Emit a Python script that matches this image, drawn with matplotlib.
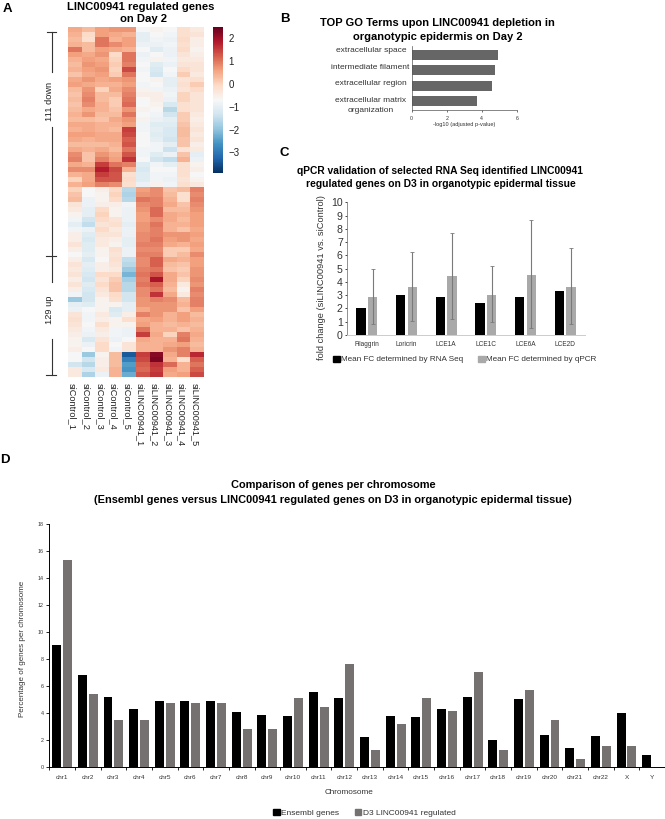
"""
LINC00941 figure: heatmap, GO terms, qPCR validation and genes per chromosome.
Saves out.png (665x819).
"""
import numpy as np
import matplotlib
matplotlib.use("Agg")
import matplotlib.pyplot as plt
from matplotlib.lines import Line2D
from matplotlib.patches import Patch
from matplotlib.transforms import ScaledTranslation

plt.rcParams["font.family"] = ["Liberation Sans", "DejaVu Sans"]

W, H = 665, 819

# Panel A: estimated z-scores, one row per band of genes
HEAT_COLUMNS = ["siControl_1", "siControl_2", "siControl_3", "siControl_4", "siControl_5",
                "siLINC00941_1", "siLINC00941_2", "siLINC00941_3", "siLINC00941_4", "siLINC00941_5"]
HEAT_DOWN = [
    [.5, .3, .6, .7, .7, -.7, -.6, -.7, -.2, -.4],
    [.4, -.1, .6, .5, .4, -1.0, -.7, -.8, -.2, -.3],
    [.3, -.2, 1.0, .4, .6, -1.0, -.8, -.9, -.1, -.5],
    [.4, .3, 1.0, .8, .6, -.9, -.9, -.8, -.2, -.5],
    [1.0, .3, .6, .5, .4, -.7, -1.1, -.9, -.1, -.6],
    [.6, .5, .7, -.1, 1.0, -.9, -.7, -.9, -.3, -.5],
    [.4, .6, .5, .0, 1.0, -.8, -.6, -.8, -.4, -.4],
    [.3, .7, .6, .1, .9, -.7, -1.1, -.9, -.3, -.3],
    [.4, .6, .7, .0, 1.4, -.8, -1.2, -.7, -.1, -.3],
    [.2, .5, .6, .1, 1.0, -.7, -1.3, -.8, .1, -.4],
    [.5, .7, .5, .6, .7, -.7, -.6, -1.0, -.3, -.2],
    [.6, .5, .4, .4, .6, -.8, -.7, -1.0, -.2, .1],
    [.3, .7, .0, .5, .8, -.6, -.8, -.9, -.3, -.1],
    [.2, .8, .3, .3, .9, -.5, -.5, -.8, .0, -.3],
    [.3, .9, .3, .1, 1.0, -.7, -.5, -.9, .0, -.3],
    [.2, .8, .4, .1, 1.1, -.7, -.6, -1.2, -.2, -.3],
    [.3, .5, .4, .2, .7, -.6, -.7, -1.6, -.2, -.3],
    [.4, .7, .3, .3, 1.0, -.7, -.8, -1.3, .1, -.4],
    [.3, .3, .2, .5, .7, -.6, -.9, -1.0, .1, -.5],
    [.5, .5, .4, .4, .6, -.8, -1.1, -1.1, .2, -.4],
    [.4, .5, .4, .3, 1.5, -.8, -1.0, -1.2, .3, -.3],
    [.6, .6, .5, .5, 1.4, -.7, -1.1, -1.2, .3, -.4],
    [.5, .4, .5, .5, 1.2, -.7, -1.0, -1.3, .2, -.3],
    [.3, .3, .3, .4, 1.3, -.7, -.8, -1.0, .2, -.5],
    [.5, .4, .5, .3, 1.0, -.8, -.8, -1.4, -.3, -.4],
    [.8, .2, .7, .5, 1.3, -.8, -1.1, -.9, .2, -1.0],
    [.9, .2, .9, .6, 1.6, -.7, -1.3, -1.5, .4, -.9],
    [.5, .4, 1.5, 1.0, .9, -1.1, -.8, -1.0, -.2, -.6],
    [.8, .8, 1.8, 1.4, .4, -1.2, -.7, -.7, -.2, -.5],
    [.4, .5, 1.5, 1.3, -.2, -1.1, -.8, -.8, -.2, -.7],
    [.0, .5, 1.3, 1.3, -.1, -1.1, -.8, -.9, -.3, -.6],
    [.4, .6, .9, .8, -.2, -.9, -.6, -.8, -.2, -.4],
]
HEAT_UP = [
    [.0, -.7, -.5, -.1, -1.6, .6, .8, .2, .3, .9],
    [.2, -.7, -.6, .0, -1.7, .7, .8, .3, -.2, .8],
    [.3, -.9, -.6, -.1, -1.6, 1.0, .9, .4, -.2, .9],
    [-.3, -.9, -.5, -.5, -.8, .8, .9, .5, .2, .8],
    [-.4, -1.0, -.1, -.6, -.9, .7, 1.1, .3, .3, .7],
    [-.6, -1.0, .0, -.6, -.9, .6, 1.1, .5, .4, .6],
    [-.8, -1.3, -.1, -.3, -.9, .6, .8, .5, .3, .6],
    [-1.0, -1.5, -.3, -.2, -1.0, .7, 1.0, .4, .4, .6],
    [-.8, -.9, -.1, -.4, -.9, .7, .9, .4, .2, .5],
    [-.5, -1.1, -.3, -.3, -.9, .8, .9, .7, .7, .6],
    [-.5, -1.2, -.4, -.5, -1.0, .8, 1.0, .6, .7, .5],
    [-.3, -1.1, -.4, -.6, -1.0, .9, .9, .5, .4, .6],
    [-.5, -1.1, -.6, -.2, -.9, .8, .8, .1, .1, .5],
    [-.7, -1.0, -.6, -.3, -.9, .9, .9, .1, .3, .8],
    [-.5, -1.2, -.7, -.2, -1.5, .8, 1.2, .5, .4, .6],
    [-.3, -1.0, -.5, -.3, -1.6, .8, 1.2, .3, .2, .6],
    [-.4, -1.1, -.5, -.4, -1.9, .9, 1.0, .2, .1, .7],
    [-.3, -1.2, -.1, -.1, -2.2, 1.0, 1.3, .5, .2, .7],
    [-.5, -1.3, -.3, .1, -1.8, .9, 1.9, .5, .0, .8],
    [-.3, -1.1, -.1, .2, -1.6, 1.0, 1.2, .4, -.4, .7],
    [-.5, -1.2, -.3, .2, -1.6, .8, 1.0, .3, -.6, .9],
    [-.8, -1.3, -.4, -.1, -1.3, .8, 1.6, .5, -.4, .8],
    [-1.9, -1.3, -.6, -.2, -1.3, .7, .9, .8, .3, .9],
    [-1.0, -1.1, -.6, -.6, -1.0, .7, .7, .7, .4, .9],
    [-.9, -.7, -.6, -1.2, -1.0, .5, .7, .7, .2, .6],
    [-.3, -.8, -.4, -1.1, -.5, .9, .7, .4, .6, .3],
    [-.2, -.8, -.5, -.6, -.2, .5, .6, .4, .6, .4],
    [-.3, -.7, -.2, -.6, -.6, .6, .4, .3, .4, .3],
    [-.4, -.8, -.4, -.8, -.9, 1.0, .4, .4, .2, .4],
    [-.5, -.9, -.5, -.8, -.9, 1.5, .5, .0, .9, .5],
    [-.6, -1.2, -.3, -.9, -.7, .5, .4, .4, 1.0, .4],
    [-.6, -.9, -.1, -.7, -.3, .4, .4, .5, .6, .3],
    [-.5, -.7, -.1, -.8, -.3, .4, .4, .7, .9, .4],
    [-.7, -1.9, -.6, .3, -3.4, 1.5, 2.2, .5, .9, 1.7],
    [-.7, -1.3, -.5, .3, -2.9, 1.4, 2.3, .4, -.2, 1.2],
    [-1.3, -1.6, -.5, .3, -2.5, 1.2, 1.6, 1.1, .4, 1.0],
    [-.4, -1.2, -.4, .4, -2.6, 1.1, 1.5, .6, .4, 1.2],
    [-.4, -1.7, -.9, .4, -2.3, 1.3, 1.6, .5, .6, 1.4],
]
HEAT_VMIN, HEAT_VMAX = -3.9, 2.48
HEAT_TICKS = [-3, -2, -1, 0, 1, 2]

# Panel B: GO terms
GO_TERMS = ["extracellular space", "intermediate filament", "extracellular region",
            "extracellular matrix\norganization"]
GO_VALUES = [4.93, 4.76, 4.61, 3.75]

# Panel C: qPCR validation
QPCR_GENES = ["Filaggrin", "Loricrin", "LCE1A", "LCE1C", "LCE6A", "LCE2D"]
RNASEQ_FC = [2.05, 3.05, 2.9, 2.4, 2.85, 3.35]
QPCR_FC = [2.9, 3.6, 4.45, 3.0, 4.55, 3.65]
QPCR_LOW = [0.85, 1.05, 1.2, 0.95, 0.5, 0.85]
QPCR_HIGH = [5.0, 6.25, 7.7, 5.2, 8.65, 6.55]

# Panel D: genes per chromosome
CHROMOSOMES = [f"chr{i}" for i in range(1, 23)] + ["X", "Y"]
ENSEMBL_PCT = [9.03, 6.8, 5.15, 4.27, 4.9, 4.9, 4.9, 4.07, 3.82, 3.77, 5.55, 5.08,
               2.22, 3.77, 3.67, 4.27, 5.15, 2.0, 5.03, 2.34, 1.38, 2.29, 4.02, 0.86]
D3_PCT = [15.29, 5.38, 3.48, 3.48, 4.73, 4.73, 4.73, 2.81, 2.81, 5.08, 4.44, 7.64,
          1.26, 3.18, 5.08, 4.12, 7.0, 1.26, 5.7, 3.45, 0.62, 1.58, 1.58, 0]


def px_axes(fig, left, top, right, bottom):
    """Axes placed by pixel box, y counted from the top of the figure."""
    return fig.add_axes([left / W, 1 - bottom / H, (right - left) / W, (bottom - top) / H])


def px_text(fig, x, y, s, **kw):
    kw.setdefault("ha", "center")
    kw.setdefault("va", "center")
    fig.text(x / W, 1 - y / H, s, **kw)


def px_line(fig, xs, ys, color="#333333", lw=0.8):
    fig.add_artist(Line2D([x / W for x in xs], [1 - y / H for y in ys], color=color, lw=lw))


# ── Panel A ───────────────────────────────────────────────────────────────────

def draw_heatmap(fig):
    ax = px_axes(fig, 68, 27, 204, 377)
    matrix = np.array(HEAT_DOWN + HEAT_UP)
    im = ax.imshow(matrix, cmap="RdBu_r", vmin=HEAT_VMIN, vmax=HEAT_VMAX,
                   aspect="auto", interpolation="nearest")
    ax.set_yticks([])
    ax.set_xticks(range(len(HEAT_COLUMNS)))
    ax.set_xticklabels(HEAT_COLUMNS, rotation=270, fontsize=6.6, color="#222222")
    ax.tick_params(axis="x", length=0, pad=4)
    # Labels sit slightly left of the column centres
    shift = ScaledTranslation(-2.5 / 100, 0, fig.dpi_scale_trans)
    for tick in ax.get_xticklabels():
        tick.set_transform(tick.get_transform() + shift)
    for spine in ax.spines.values():
        spine.set_visible(False)

    cax = px_axes(fig, 213, 27, 223, 173)
    cbar = fig.colorbar(im, cax=cax)
    cbar.set_ticks(HEAT_TICKS)
    cbar.ax.tick_params(length=0, labelsize=7, pad=4, labelcolor="#222222")
    cbar.outline.set_visible(False)

    px_text(fig, 141, 6.5, "LINC00941 regulated genes", fontsize=8.1, fontweight="bold")
    px_text(fig, 144, 19.5, "on Day 2", fontsize=8.1, fontweight="bold")

    # Brackets on the left
    px_line(fig, [47, 56], [32, 32])
    px_line(fig, [51.5, 51.5], [32, 72])
    px_line(fig, [51.5, 51.5], [127, 282])
    px_line(fig, [46, 56], [256, 256])
    px_line(fig, [51.5, 51.5], [339, 375])
    px_line(fig, [46, 56], [375, 375])
    px_text(fig, 50, 101, "111 down", rotation=90, fontsize=6.7, color="#222222")
    px_text(fig, 50, 310, "129 up", rotation=90, fontsize=6.7, color="#222222")


# ── Panel B ───────────────────────────────────────────────────────────────────

def draw_go_terms(fig):
    ax = px_axes(fig, 411.7, 46, 516.7, 110)
    y = np.arange(len(GO_TERMS))
    ax.barh(y, GO_VALUES, height=0.67, color="#666666")
    ax.set_ylim(len(GO_TERMS) - 0.42, -0.58)
    ax.set_xlim(0, 6)
    ax.set_xticks([0, 2, 4, 6])
    ax.set_yticks([])
    ax.tick_params(axis="x", labelsize=3.8, length=1.5, width=0.4, pad=2.5, labelcolor="#333333")
    ax.set_xlabel("-log10 (adjusted p-value)", fontsize=4.1, labelpad=0.8, color="#333333")
    for side in ["top", "right"]:
        ax.spines[side].set_visible(False)
    for side in ["left", "bottom"]:
        ax.spines[side].set_linewidth(0.5)
        ax.spines[side].set_color("#555555")

    for term, py in zip(GO_TERMS, [51, 67.5, 83.5, 105.5]):
        px_text(fig, 370 if "intermediate" in term else 371, py, term, fontsize=6,
                color="#333333", linespacing=1.4)

    px_text(fig, 437.5, 23, "TOP GO Terms upon LINC00941 depletion in", fontsize=8, fontweight="bold")
    px_text(fig, 437.7, 37, "organotypic epidermis on Day 2", fontsize=8, fontweight="bold")


# ── Panel C ───────────────────────────────────────────────────────────────────

def draw_qpcr(fig):
    ax = px_axes(fig, 347, 202.3, 585, 335)
    x = np.arange(len(QPCR_GENES))
    rna = np.array(RNASEQ_FC)
    qpcr = np.array(QPCR_FC)
    ax.bar(x - 0.147, rna, width=0.235, color="black")
    ax.bar(x + 0.147, qpcr, width=0.235, color="#a9a9a9")
    yerr = [qpcr - np.array(QPCR_LOW), np.array(QPCR_HIGH) - qpcr]
    ax.errorbar(x + 0.147, qpcr, yerr=yerr, fmt="none", ecolor="#7a7a7a",
                elinewidth=0.8, capsize=1.2, capthick=0.6)
    ax.set_xlim(-0.5, len(QPCR_GENES) - 0.5)
    ax.set_ylim(0, 10)
    ax.set_yticks(range(11))
    ax.set_xticks(x)
    ax.set_xticklabels(QPCR_GENES, fontsize=4.7, color="#333333")
    ax.tick_params(axis="x", length=0, pad=4.5)
    ax.tick_params(axis="y", length=1.5, width=0.5, labelsize=7.6, pad=1.5, labelcolor="#333333")
    for side in ["top", "right"]:
        ax.spines[side].set_visible(False)
    ax.spines["left"].set_linewidth(0.5)
    ax.spines["left"].set_color("#666666")
    ax.spines["bottom"].set_linewidth(0.7)
    ax.spines["bottom"].set_color("#cccccc")

    px_text(fig, 322, 278, "fold change (siLINC00941 vs. siControl)", rotation=90,
            fontsize=6.7, color="#333333")

    handles = [Patch(color="black", label="Mean FC determined by RNA Seq"),
               Patch(color="#a9a9a9", label="Mean FC determined by qPCR")]
    fig.legend(handles=handles, loc="center left", bbox_to_anchor=(333 / W, 1 - 359.5 / H),
               ncol=2, frameon=False, fontsize=5.9, handlelength=0.8, handleheight=0.8,
               handletextpad=0.15, columnspacing=1.9, borderpad=0, borderaxespad=0,
               labelcolor="#333333")

    px_text(fig, 440, 171, "qPCR validation of selected RNA Seq identified LINC00941",
            fontsize=7.4, fontweight="bold")
    px_text(fig, 441, 184, "regulated genes on D3 in organotypic epidermal tissue",
            fontsize=7.4, fontweight="bold")


# ── Panel D ───────────────────────────────────────────────────────────────────

def draw_chromosomes(fig):
    ax = px_axes(fig, 49.3, 523.7, 665, 767)
    x = np.arange(len(CHROMOSOMES))
    ax.bar(x - 0.212, ENSEMBL_PCT, width=0.35, color="black")
    ax.bar(x + 0.212, D3_PCT, width=0.35, color="#767171")
    ax.set_xlim(-0.5, len(CHROMOSOMES) - 0.5)
    ax.set_ylim(0, 18)
    ax.set_yticks(range(0, 19, 2))
    ax.set_xticks(np.arange(len(CHROMOSOMES) + 1) - 0.5, minor=True)
    ax.set_xticks(x)
    ax.set_xticklabels(CHROMOSOMES, fontsize=4.6, color="#333333")
    ax.tick_params(axis="x", which="major", length=0, pad=6)
    ax.tick_params(axis="x", which="minor", length=2, width=0.6)
    ax.tick_params(axis="y", length=2, width=0.6, labelsize=3.9, pad=2, labelcolor="#333333")
    for side in ["top", "right"]:
        ax.spines[side].set_visible(False)
    for side in ["left", "bottom"]:
        ax.spines[side].set_linewidth(0.7)

    px_text(fig, 23, 648.5, "Percentage of genes per chromosome", rotation=90,
            fontsize=5.8, color="#333333")
    px_text(fig, 349, 793, "Chromosome", fontsize=5.9, color="#333333")

    handles = [Patch(color="black", label="Ensembl genes"),
               Patch(color="#767171", label="D3 LINC00941 regulated")]
    fig.legend(handles=handles, loc="center left", bbox_to_anchor=(273 / W, 1 - 813 / H),
               ncol=2, frameon=False, fontsize=6, handlelength=0.8, handleheight=0.8,
               handletextpad=0.15, columnspacing=1.9, borderpad=0, borderaxespad=0,
               labelcolor="#333333")

    px_text(fig, 333.5, 485, "Comparison of genes per chromosome", fontsize=7.9, fontweight="bold")
    px_text(fig, 332.5, 500, "(Ensembl genes versus LINC00941 regulated genes on D3 in organotypic epidermal tissue)",
            fontsize=7.9, fontweight="bold")


def main():
    fig = plt.figure(figsize=(W / 100, H / 100), dpi=100)
    draw_heatmap(fig)
    draw_go_terms(fig)
    draw_qpcr(fig)
    draw_chromosomes(fig)

    for label, x, y in [("A", 7, 9), ("B", 284.5, 19), ("C", 284.5, 153), ("D", 5, 460)]:
        px_text(fig, x, y, label, fontsize=9.5, fontweight="bold")

    fig.savefig("out.png", dpi=100)
    plt.close(fig)


if __name__ == "__main__":
    main()
